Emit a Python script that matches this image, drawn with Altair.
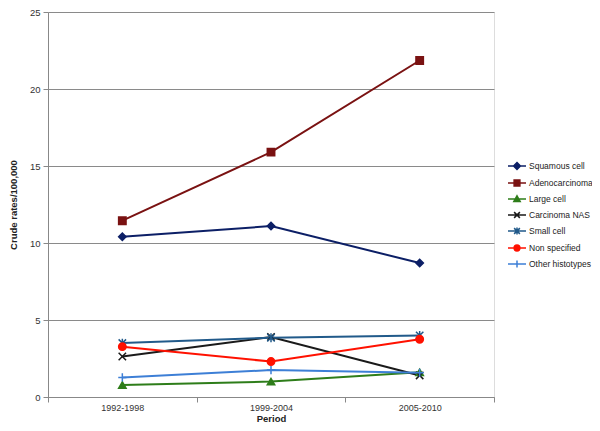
import altair as alt
import pandas as pd

periods = ["1992-1998", "1999-2004", "2005-2010"]
series = ["Squamous cell", "Adenocarcinoma", "Large cell", "Carcinoma NAS",
          "Small cell", "Non specified", "Other histotypes"]
squamous = [10.4, 11.1, 8.7]
adeno = [11.45, 15.9, 21.85]
large = [0.78, 1.0, 1.6]
nas = [2.63, 3.9, 1.4]
small = [3.5, 3.85, 4.0]
nonspec = [3.27, 2.3, 3.75]
other = [1.27, 1.75, 1.57]
values = [squamous, adeno, large, nas, small, nonspec, other]

colors = ["#0c1f66", "#7a1212", "#2e7d1a", "#1a1a1a", "#215a8a", "#ff1100", "#3d7fd6"]
plot_shapes = ["diamond", "square", "triangle-up",
               "M-1,-1L1,1M-1,1L1,-1",
               "M-1,-1L1,1M-1,1L1,-1M0,-1.2L0,1.2",
               "circle",
               "M-1.1,0L1.1,0M0,-1.1L0,1.1"]
legend_shapes = [
    "M-1,0H1M0,-0.38L0.38,0L0,0.38L-0.38,0Z",
    "M-1,0H1M-0.32,-0.32H0.32V0.32H-0.32Z",
    "M-1,0H1M0,-0.35L0.35,0.27H-0.35Z",
    "M-1,0H1M-0.32,-0.32L0.32,0.32M-0.32,0.32L0.32,-0.32",
    "M-1,0H1M-0.32,-0.32L0.32,0.32M-0.32,0.32L0.32,-0.32M0,-0.38V0.38",
    "M-1,0H1M0.32,0A0.32,0.32,0,1,1,-0.32,0A0.32,0.32,0,1,1,0.32,0Z",
    "M-1,0H1M0,-0.38V0.38",
]

rows = []
for s, vals in zip(series, values):
    for p, v in zip(periods, vals):
        rows.append({"series": s, "period": p, "value": v})
df = pd.DataFrame(rows)

FONT = "Liberation Sans"

x = alt.X("period:N", sort=periods, title="Period",
          axis=alt.Axis(labelAngle=0, tickBand="extent", grid=False,
                        titleFontWeight="bold", titleFontSize=9.5, labelFontSize=9,
                        labelColor="#333", titleColor="#222", domainColor="#888",
                        tickColor="#888", tickSize=5, labelPadding=1, titlePadding=1),
          scale=alt.Scale(paddingInner=0, paddingOuter=0))
y = alt.Y("value:Q", title="Crude rates/100,000",
          scale=alt.Scale(domain=[0, 25], nice=False),
          axis=alt.Axis(values=[0, 5, 10, 15, 20, 25], gridColor="#8a8a8a",
                        domainColor="#888", tickColor="#888", tickSize=5,
                        labelFontSize=9.5, labelColor="#333", titleColor="#222",
                        titleFontWeight="bold", titleFontSize=9.5, labelPadding=3,
                        titlePadding=11))

lines = alt.Chart(df).mark_line(strokeWidth=2).encode(
    x=x, y=y,
    color=alt.Color("series:N", scale=alt.Scale(domain=series, range=colors), legend=None),
)

points = alt.Chart(df).mark_point(filled=True, size=55, strokeWidth=1.5, opacity=1).encode(
    x=x, y=y,
    fill=alt.Fill("series:N", scale=alt.Scale(domain=series, range=colors), legend=None),
    stroke=alt.Stroke("series:N", scale=alt.Scale(domain=series, range=colors), legend=None),
    shape=alt.Shape("series:N", scale=alt.Scale(domain=series, range=plot_shapes), legend=None),
)

leg = alt.Legend(title=None, orient="none", legendX=459, legendY=144, symbolSize=324,
                 symbolOpacity=1, symbolStrokeWidth=1.5, labelFontSize=8.5,
                 labelColor="#222", rowPadding=-1, padding=0, labelOffset=2)

legend_layer = alt.Chart(df).mark_point(filled=True, opacity=0).encode(
    x=x, y=y,
    fill=alt.Fill("series:N", scale=alt.Scale(domain=series, range=colors), legend=leg),
    stroke=alt.Stroke("series:N", scale=alt.Scale(domain=series, range=colors), legend=leg),
    shape=alt.Shape("series:N", scale=alt.Scale(domain=series, range=legend_shapes), legend=leg),
)

chart = alt.layer(lines, points, legend_layer).resolve_scale(
    fill="independent", stroke="independent", shape="independent"
).properties(
    width=446, height=385,
    autosize=alt.AutoSizeParams(type="none"),
    padding={"left": 40, "top": 4, "right": 98, "bottom": 26},
).configure_view(stroke=None).configure(font=FONT)

chart.save("out.html", embed_options={"renderer": "svg", "actions": False})
